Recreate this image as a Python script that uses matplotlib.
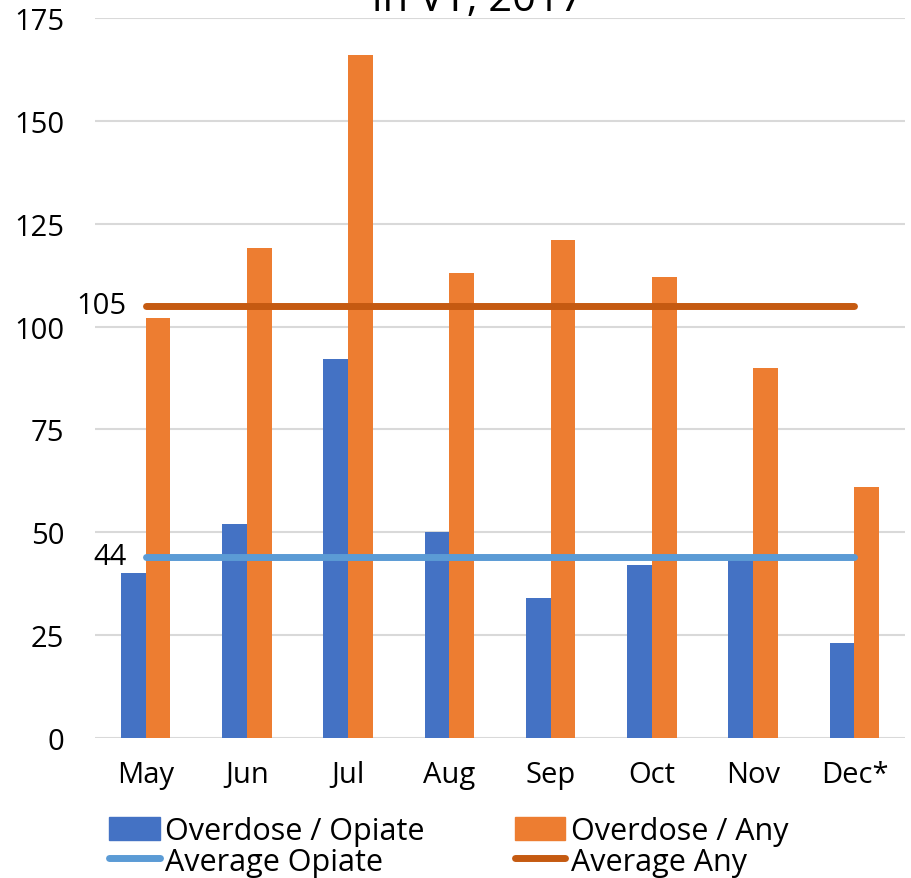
import numpy as np
import matplotlib.pyplot as plt
from matplotlib.patches import Patch
from matplotlib.lines import Line2D

plt.rcParams['font.family'] = ['Open Sans', 'DejaVu Sans']

# monthly counts, 2017
months = ['May', 'Jun', 'Jul', 'Aug', 'Sep', 'Oct', 'Nov', 'Dec*']
opiate = [40, 52, 92, 50, 34, 42, 44, 23]
any_od = [102, 119, 166, 113, 121, 112, 90, 61]
avg_opiate = 44
avg_any = 105

blue = '#4472C4'
orange = '#ED7D31'
light_blue = '#5B9BD5'
dark_orange = '#C55A11'

fig = plt.figure(figsize=(9.11, 8.79), dpi=100)
ax = fig.add_axes([95 / 911, 140 / 879, 810 / 911, 720 / 879])

x = np.arange(len(months))
w = 0.245
ax.bar(x - w / 2, opiate, width=w, color=blue, zorder=2)
ax.bar(x + w / 2, any_od, width=w, color=orange, zorder=2)

# average lines across the months
ax.plot([x[0], x[-1]], [avg_opiate, avg_opiate], color=light_blue, lw=5,
        solid_capstyle='round', zorder=3)
ax.plot([x[0], x[-1]], [avg_any, avg_any], color=dark_orange, lw=5,
        solid_capstyle='round', zorder=3)
ax.text(x[0] - 0.19, avg_opiate, str(avg_opiate), ha='right', va='center',
        fontsize=21)
ax.text(x[0] - 0.19, avg_any, str(avg_any), ha='right', va='center',
        fontsize=21)

ax.set_xlim(-0.5, len(months) - 0.5)
ax.set_ylim(0, 175)
ax.set_yticks(range(0, 176, 25))
ax.set_xticks(x)
ax.set_xticklabels(months)
ax.tick_params(axis='both', length=0, labelsize=21)
ax.tick_params(axis='y', pad=22)
ax.tick_params(axis='x', pad=16)
ax.yaxis.grid(True, color='#d9d9d9', lw=1.5, zorder=0)
ax.set_axisbelow(True)
for s in ax.spines.values():
    s.set_visible(False)

fig.text(0.525, 1.0, 'in VT, 2017', ha='center', va='center', fontsize=30)

handles = [Patch(color=blue), Line2D([], [], color=light_blue, lw=5, solid_capstyle='round'),
           Patch(color=orange), Line2D([], [], color=dark_orange, lw=5, solid_capstyle='round')]
labels = ['Overdose / Opiate', 'Average Opiate', 'Overdose / Any', 'Average Any']
fig.legend(handles, labels, ncol=2, loc='upper left', bbox_to_anchor=(0.12, 0.0705),
           frameon=False, fontsize=22, handlelength=1.65, handleheight=0.8,
           handletextpad=0.18, columnspacing=2.95, labelspacing=0.02,
           borderaxespad=0, borderpad=0)

fig.savefig('out.png', dpi=100)
